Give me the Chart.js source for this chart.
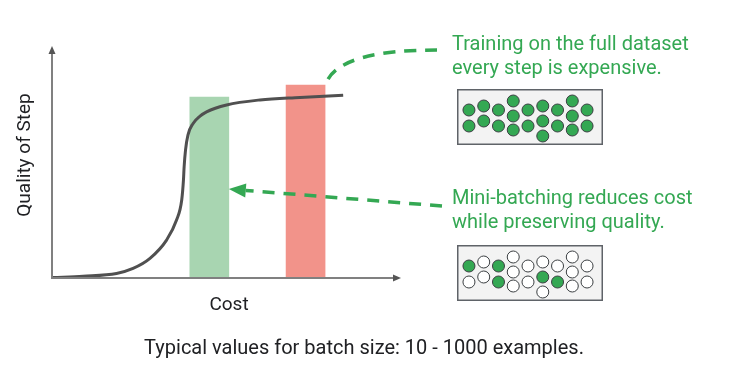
<!DOCTYPE html>
<html>
<head>
<meta charset="utf-8">
<script src="https://cdn.jsdelivr.net/npm/chart.js@4"></script>
<style>
  html, body { margin: 0; padding: 0; background: #fff; }
  #wrap { position: relative; width: 729px; height: 373px; }
  #wrap canvas { position: absolute; }
  #mainChart { left: 0; top: 0; }
  #fullBox { left: 457px; top: 89px; }
  #miniBox { left: 457px; top: 245px; }
</style>
</head>
<body>
<div id="wrap">
  <canvas id="mainChart" width="729" height="373"></canvas>
  <canvas id="fullBox" width="146" height="56"></canvas>
  <canvas id="miniBox" width="146" height="56"></canvas>
</div>
<script>
// quality of a step against its cost
const curveCost = [0.3, 9.0, 18.7, 23.5, 28.4, 33.2, 36.1, 37.6, 38.1, 38.3, 38.7, 39.4, 40.9, 42.9, 44.8, 50.6, 60.3, 71.9, 84.4];
const curveQuality = [0.2, 0.8, 2.0, 4.2, 8.6, 16.6, 25.4, 34.2, 42.9, 48.8, 56.1, 62.7, 67.8, 71.0, 72.9, 75.9, 78.1, 79.2, 80.2];

// mini-batch bar and full-batch bar
const barLabels = ["Mini-batch", "Full batch"];
const barCost = [45.6, 73.5];
const barQuality = [79.4, 84.6];
const barColors = ["#a8d5b1", "#f2938a"];

// dots in the example boxes: column and depth from the top of the box
const dotCol = [1, 1, 2, 2, 3, 3, 4, 4, 4, 5, 5, 6, 6, 6, 7, 7, 8, 8, 8, 9, 9];
const dotDepth = [21, 37, 17, 32, 21, 37, 12, 27, 41, 21, 37, 17, 32, 47, 21, 37, 12, 27, 41, 21, 37];
const fullPicked = [1, 1, 1, 1, 1, 1, 1, 1, 1, 1, 1, 1, 1, 1, 1, 1, 1, 1, 1, 1, 1];
const miniPicked = [1, 0, 0, 0, 1, 1, 0, 0, 0, 0, 0, 0, 1, 0, 0, 1, 0, 0, 0, 0, 0];

const xTitle = "Cost";
const yTitle = "Quality of Step";
const topNote = ["Training on the full dataset", "every step is expensive."];
const midNote = ["Mini-batching reduces cost", "while preserving quality."];
const caption = "Typical values for batch size: 10 - 1000 examples.";

const GREEN = "#34a853";
const TEXT = "#202124";
const FONT = "Roboto, 'Noto Sans', sans-serif";
const BAR_W = 39;

function dashedArrow(ctx, fromX, fromY, tipX, tipY) {
  const dx = fromX - tipX, dy = fromY - tipY;
  const len = Math.hypot(dx, dy);
  const ux = dx / len, uy = dy / len;
  const headLen = 17, headHalf = 7;
  const bx = tipX + ux * headLen, by = tipY + uy * headLen;
  ctx.setLineDash([12, 9]);
  ctx.beginPath();
  ctx.moveTo(fromX, fromY);
  ctx.lineTo(bx, by);
  ctx.stroke();
  ctx.setLineDash([]);
  ctx.beginPath();
  ctx.moveTo(tipX, tipY);
  ctx.lineTo(bx - uy * headHalf, by + ux * headHalf);
  ctx.lineTo(bx + uy * headHalf, by - ux * headHalf);
  ctx.closePath();
  ctx.fill();
}

// axis titles, arrows, notes and caption around the plot
const notesPlugin = {
  id: "notes",
  afterDraw(chart) {
    const { ctx, chartArea } = chart;
    const x = chart.scales.x, y = chart.scales.y;
    ctx.save();

    // axis arrowheads
    ctx.fillStyle = "#555";
    ctx.beginPath();
    ctx.moveTo(chartArea.left, chartArea.top - 4);
    ctx.lineTo(chartArea.left - 3.5, chartArea.top + 4);
    ctx.lineTo(chartArea.left + 3.5, chartArea.top + 4);
    ctx.fill();
    ctx.beginPath();
    ctx.moveTo(chartArea.right + 4, chartArea.bottom);
    ctx.lineTo(chartArea.right - 4, chartArea.bottom - 3.5);
    ctx.lineTo(chartArea.right - 4, chartArea.bottom + 3.5);
    ctx.fill();

    // axis titles
    ctx.fillStyle = TEXT;
    ctx.font = "19px " + FONT;
    ctx.textAlign = "center";
    ctx.textBaseline = "middle";
    ctx.fillText(xTitle, 229, 305);
    ctx.save();
    ctx.translate(25, 155);
    ctx.rotate(-Math.PI / 2);
    ctx.fillText(yTitle, 0, 0);
    ctx.restore();

    ctx.strokeStyle = GREEN;
    ctx.fillStyle = GREEN;
    ctx.lineWidth = 3.5;

    // from the mini-batch note back to the green bar
    const tipX = x.getPixelForValue(barCost[0]) + BAR_W / 2;
    const tipY = y.getPixelForValue(39);
    dashedArrow(ctx, 442, 206, tipX, tipY);

    // from the top of the red bar up to the full-batch note
    const sx = x.getPixelForValue(barCost[1]) + BAR_W / 2 + 3;
    const sy = y.getPixelForValue(barQuality[1]) - 6;
    ctx.setLineDash([12, 9]);
    ctx.beginPath();
    ctx.moveTo(sx, sy);
    ctx.quadraticCurveTo(345, 50, 437, 50);
    ctx.stroke();
    ctx.setLineDash([]);

    ctx.font = "20px " + FONT;
    ctx.textBaseline = "alphabetic";
    ctx.textAlign = "left";
    ctx.fillText(topNote[0], 452, 50);
    ctx.fillText(topNote[1], 452, 74);
    ctx.fillText(midNote[0], 452, 204);
    ctx.fillText(midNote[1], 452, 228);

    ctx.fillStyle = TEXT;
    ctx.textAlign = "center";
    ctx.fillText(caption, 364, 354);
    ctx.restore();
  }
};

new Chart(document.getElementById("mainChart"), {
  type: "bar",
  data: {
    datasets: [
      {
        type: "line",
        label: yTitle,
        data: curveCost.map((c, i) => ({ x: c, y: curveQuality[i] })),
        borderColor: "#505050",
        borderWidth: 3,
        pointRadius: 0,
        cubicInterpolationMode: "monotone",
        order: 0,
      },
      {
        type: "bar",
        label: "Batch",
        data: barCost.map((c, i) => ({ x: c, y: barQuality[i], name: barLabels[i] })),
        backgroundColor: barColors,
        barThickness: BAR_W,
        grouped: false,
        order: 1,
      },
    ],
  },
  options: {
    responsive: false,
    animation: false,
    layout: { autoPadding: false, padding: { left: 52, top: 50, right: 332, bottom: 95 } },
    plugins: { legend: { display: false }, tooltip: { enabled: false } },
    scales: {
      x: {
        type: "linear",
        min: 0,
        max: 100,
        offset: false,
        grid: { display: false, drawTicks: false },
        ticks: { display: false },
        border: { display: true, color: "#808080", width: 2, z: 1 },
      },
      y: {
        min: 0,
        max: 100,
        grid: { display: false, drawTicks: false },
        ticks: { display: false },
        border: { display: true, color: "#808080", width: 2, z: 1 },
      },
    },
  },
  plugins: [notesPlugin],
});

// grey box behind the dots
const boxPlugin = {
  id: "box",
  beforeDraw(chart) {
    const { ctx, width, height } = chart;
    ctx.save();
    ctx.fillStyle = "#f3f3f3";
    ctx.fillRect(0, 0, width, height);
    ctx.strokeStyle = "#5f6368";
    ctx.lineWidth = 1.5;
    ctx.strokeRect(0.75, 0.75, width - 1.5, height - 1.5);
    ctx.restore();
  }
};

function makeDots(id, picked) {
  new Chart(document.getElementById(id), {
    type: "scatter",
    data: {
      datasets: [{
        data: dotCol.map((c, i) => ({ x: c, y: dotDepth[i] })),
        backgroundColor: picked.map((p) => (p ? GREEN : "#ffffff")),
        borderColor: "#3c4043",
        borderWidth: 1,
        pointRadius: 6,
      }],
    },
    options: {
      responsive: false,
      animation: false,
      layout: { autoPadding: false },
      plugins: { legend: { display: false }, tooltip: { enabled: false } },
      scales: {
        x: { display: false, min: 0.19, max: 10.08 },
        y: { display: false, min: 0, max: 56, reverse: true },
      },
    },
    plugins: [boxPlugin],
  });
}

makeDots("fullBox", fullPicked);
makeDots("miniBox", miniPicked);
</script>
</body>
</html>
